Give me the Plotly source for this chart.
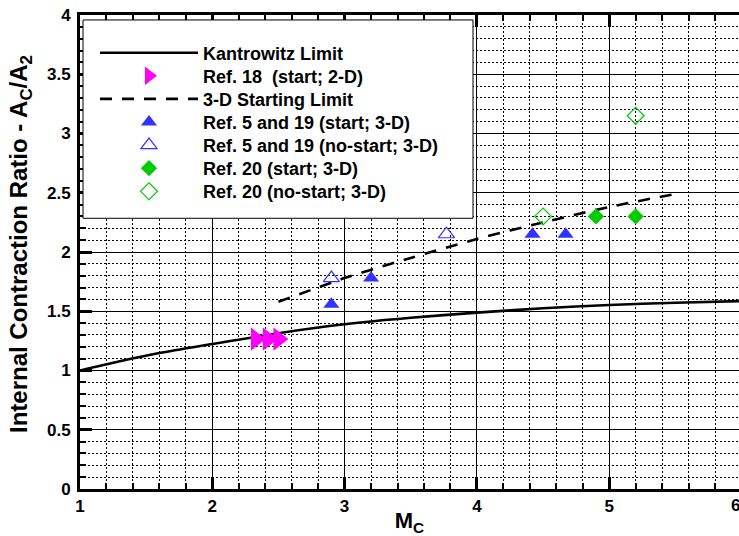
import plotly.graph_objects as go

# Kantrowitz limit (Mach number vs. internal contraction ratio)
kant_m = [1.0, 1.3, 1.6, 2.0, 2.5, 3.0, 3.5, 4.0, 4.5, 5.0, 5.5, 6.0]
kant_r = [1.0, 1.078, 1.147, 1.223, 1.315, 1.39, 1.445, 1.488, 1.525, 1.553, 1.572, 1.586]

# empirical 3-D starting limit
start3d_m = [2.5, 3.0, 3.5, 4.0, 4.5, 5.0, 5.5]
start3d_r = [1.58, 1.78, 1.95, 2.11, 2.25, 2.38, 2.49]

# Ref. 18 (start; 2-D)
ref18_m = [2.33, 2.42, 2.50]
ref18_r = [1.265, 1.265, 1.265]

# Ref. 5 and 19 (3-D)
ref519_start_m = [2.90, 3.20, 4.42, 4.67]
ref519_start_r = [1.56, 1.78, 2.15, 2.15]
ref519_nostart_m = [2.90, 3.77]
ref519_nostart_r = [1.78, 2.15]

# Ref. 20 (3-D)
ref20_start_m = [4.90, 5.20]
ref20_start_r = [2.30, 2.30]
ref20_nostart_m = [4.50, 5.20]
ref20_nostart_r = [2.30, 3.15]

x_ticks = [1, 2, 3, 4, 5, 6]
y_ticks = [0, 0.5, 1, 1.5, 2, 2.5, 3, 3.5, 4]
y_ticktext = ["0", "0.5", "1", "1.5", "2", "2.5", "3", "3.5", "4"]

FONT = "Liberation Sans, Arial, Helvetica, sans-serif"
BLUE = "#3232ff"
GREEN = "#00cc00"
MAGENTA = "#ff00ff"

traces = [
    go.Scatter(x=kant_m, y=kant_r, mode="lines", name="Kantrowitz Limit",
               line=dict(color="black", width=2.6, shape="spline", smoothing=0.8)),
    go.Scatter(x=ref18_m, y=ref18_r, mode="markers", name="Ref. 18  (start; 2-D)",
               marker=dict(symbol="triangle-right", size=20, color=MAGENTA,
                           line=dict(width=0))),
    go.Scatter(x=start3d_m, y=start3d_r, mode="lines", name="3-D Starting Limit",
               line=dict(color="black", width=2.6, dash="12px,10px",
                         shape="spline", smoothing=0.6)),
    go.Scatter(x=ref519_start_m, y=ref519_start_r, mode="markers",
               name="Ref. 5 and 19 (start; 3-D)",
               marker=dict(symbol="triangle-up", size=14, color=BLUE,
                           line=dict(width=0))),
    go.Scatter(x=ref519_nostart_m, y=ref519_nostart_r, mode="markers",
               name="Ref. 5 and 19 (no-start; 3-D)",
               marker=dict(symbol="triangle-up-open", size=14, color=BLUE,
                           line=dict(width=1.2))),
    go.Scatter(x=ref20_start_m, y=ref20_start_r, mode="markers",
               name="Ref. 20 (start; 3-D)",
               marker=dict(symbol="diamond", size=12.5, color=GREEN,
                           line=dict(width=0))),
    go.Scatter(x=ref20_nostart_m, y=ref20_nostart_r, mode="markers",
               name="Ref. 20 (no-start; 3-D)",
               marker=dict(symbol="diamond-open", size=13, color=GREEN,
                           line=dict(width=1.2))),
]

fig = go.Figure()
W, H = 739, 536
ML, MT, MB = 80, 15, 43
plot_w = W - ML
px_per_unit = 132.3
x_max = 1 + plot_w / px_per_unit

# one legend per entry so the rows sit at an even spacing inside the box
row_px = [53.3, 76.6, 99.9, 123.2, 146.5, 169.8, 193.1]
plot_h = H - MT - MB
legend_layouts = {}
for i, tr in enumerate(traces):
    key = "legend" if i == 0 else f"legend{i + 1}"
    tr.legend = key
    tr.showlegend = True
    fig.add_trace(tr)
    legend_layouts[key] = dict(
        x=(95 - ML) / plot_w, xanchor="left",
        y=1 - (row_px[i] - MT) / plot_h, yanchor="middle",
        bgcolor="rgba(0,0,0,0)", borderwidth=0,
        itemwidth=98,
        font=dict(family=FONT, size=18, color="black", weight="bold"),
    )

axis_common = dict(
    showline=True, linecolor="black", linewidth=3,
    ticks="inside", ticklen=12, tickwidth=2.5, tickcolor="black",
    showgrid=True, gridcolor="black", gridwidth=1,
    zeroline=False,
    tickfont=dict(family=FONT, size=17, color="black", weight="bold"),
)

fig.update_layout(
    width=W, height=H,
    showlegend=True,
    margin=dict(l=ML, r=0, t=MT, b=MB),
    paper_bgcolor="white", plot_bgcolor="white",
    font=dict(family=FONT, color="black"),
    xaxis=dict(
        range=[1, x_max], tickvals=x_ticks, mirror="allticks",
        minor=dict(dtick=0.2, ticks="inside", ticklen=6, tickwidth=1.5,
                   tickcolor="black", showgrid=True, gridcolor="black",
                   gridwidth=1, griddash="2px,2px"),
        title=dict(text="M<sub>C</sub>", standoff=4,
                   font=dict(family=FONT, size=22, color="black", weight="bold")),
        **axis_common,
    ),
    yaxis=dict(
        range=[0, 4], tickvals=y_ticks, ticktext=y_ticktext, mirror=False,
        ticklabelstandoff=3,
        minor=dict(dtick=0.1, ticks="inside", ticklen=6, tickwidth=1.5,
                   tickcolor="black", showgrid=True, gridcolor="black",
                   gridwidth=1, griddash="2px,2px"),
        **axis_common,
    ),
    **legend_layouts,
)

# y-axis title, placed close to the left edge
fig.add_annotation(
    x=0, xref="paper", xanchor="center", xshift=-(ML - 20),
    y=0.5, yref="paper", yanchor="middle", yshift=8,
    text="Internal Contraction Ratio - A<sub>C</sub>/A<sub>2</sub>",
    textangle=-90, showarrow=False,
    font=dict(family=FONT, size=24, color="black", weight="bold"),
)

# legend frame
fig.add_shape(type="rect", xref="paper", yref="paper",
              x0=(83 - ML) / plot_w, x1=(473 - ML) / plot_w,
              y0=1 - (220 - MT) / plot_h, y1=1 - (20 - MT) / plot_h,
              line=dict(color="black", width=1), fillcolor="white", layer="above")

# last tick label sits right at the window edge
fig.add_annotation(x=(6 - 1) / (x_max - 1), xref="paper", y=0, yref="paper",
                   yanchor="top", yshift=-5, text="6", showarrow=False,
                   font=dict(family=FONT, size=17, color="black", weight="bold"))

fig.write_html("out.html")
